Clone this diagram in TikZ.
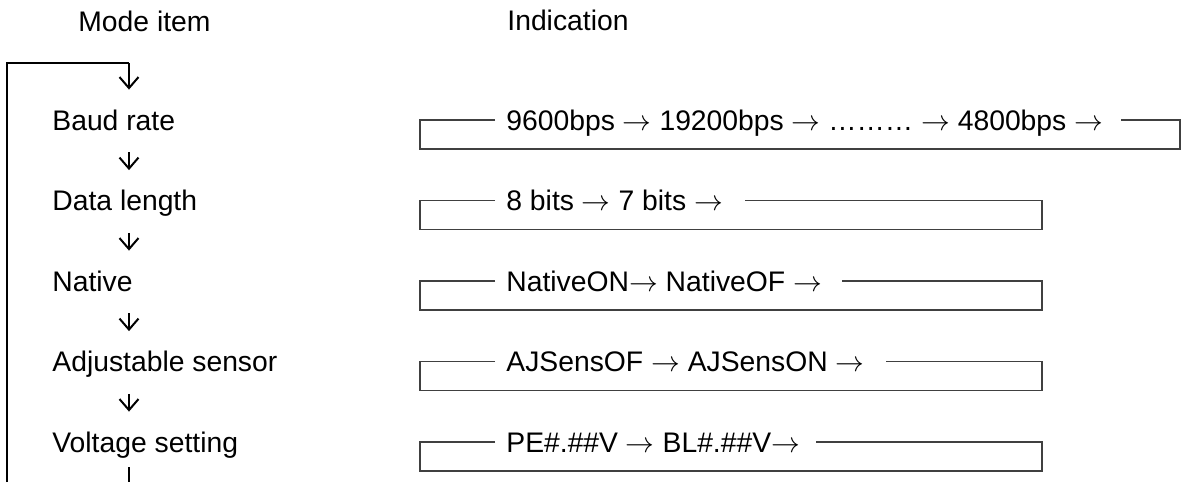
\documentclass[tikz,border=0pt]{standalone}
\usepackage{fontspec}
\setmainfont{Liberation Sans}
\usetikzlibrary{arrows.meta}

\begin{document}
\begin{tikzpicture}[x=0.5pt,y=-0.5pt,
    every node/.style={font=\fontsize{14.15}{17}\selectfont},
    item/.style={anchor=west, inner sep=0pt, text height=10pt, text depth=0pt},
    frame/.style={line width=0.9pt, black!75},
    down/.style={-{Straight Barb[length=5.5pt,width=9.5pt]}, line width=1pt, shorten >=10pt}]
    \useasboundingbox (0,0) rectangle (1192,482);

    % headings
    \node[item] (modehead) at (78,22) {Mode item};
    \node[item] (indhead) at (507,21) {Indication};

    % mode items
    \node[item] (baud) at (52,120) {Baud rate};
    \node[item] (datalen) at (52,200.5) {Data length};
    \node[item] (native) at (52,281) {Native};
    \node[item] (adjsens) at (52,361.5) {Adjustable sensor};
    \node[item] (voltset) at (52,442) {Voltage setting};

    \coordinate (ax) at (129,0);
    \coordinate (loopin) at (129,63);
    \coordinate (loopfoot) at (7,482);
    \coordinate (loopend) at (129,482);

    % loop back to the top
    \draw[line width=0.7pt] (loopfoot) |- (loopin);
    \draw[down] (loopin) -- (baud.north -| ax);
    \draw[down, shorten <=11pt] (baud.south -| ax) -- (datalen.north -| ax);
    \draw[down, shorten <=11pt] (datalen.south -| ax) -- (native.north -| ax);
    \draw[down, shorten <=11pt] (native.south -| ax) -- (adjsens.north -| ax);
    \draw[down, shorten <=11pt] (adjsens.south -| ax) -- (voltset.north -| ax);
    \draw[line width=0.7pt, shorten <=7.5pt] (voltset.south -| ax) -- (loopend);

    % indications
    \node[item] (bps) at (506,120) {9600bps $\rightarrow$ 19200bps $\rightarrow$ ……… $\rightarrow$ 4800bps $\rightarrow$};
    \draw[frame] ([xshift=-5.5pt]bps.west) -- (420,120) -- (420,149) -- (1180,149) -- (1180,120) -- ([xshift=9pt]bps.east);

    \node[item] (bits) at (506,200.5) {8 bits $\rightarrow$ 7 bits $\rightarrow$};
    \draw[frame] ([xshift=-5.5pt]bits.west) -- (420,200.5) -- (420,229.5) -- (1042,229.5) -- (1042,200.5) -- ([xshift=11pt]bits.east);

    \node[item] (nat) at (506,281) {NativeON$\rightarrow$ NativeOF $\rightarrow$};
    \draw[frame] ([xshift=-5.5pt]nat.west) -- (420,281) -- (420,310) -- (1042,310) -- (1042,281) -- ([xshift=10pt]nat.east);

    \node[item] (ajs) at (506,361.5) {AJSensOF $\rightarrow$ AJSensON $\rightarrow$};
    \draw[frame] ([xshift=-5.5pt]ajs.west) -- (420,361.5) -- (420,390.5) -- (1042,390.5) -- (1042,361.5) -- ([xshift=10.5pt]ajs.east);

    \node[item] (pe) at (506,442) {PE\#.\#\#V $\rightarrow$ BL\#.\#\#V$\rightarrow$};
    \draw[frame] ([xshift=-5.5pt]pe.west) -- (420,442) -- (420,471) -- (1042,471) -- (1042,442) -- ([xshift=8pt]pe.east);
\end{tikzpicture}
\end{document}
